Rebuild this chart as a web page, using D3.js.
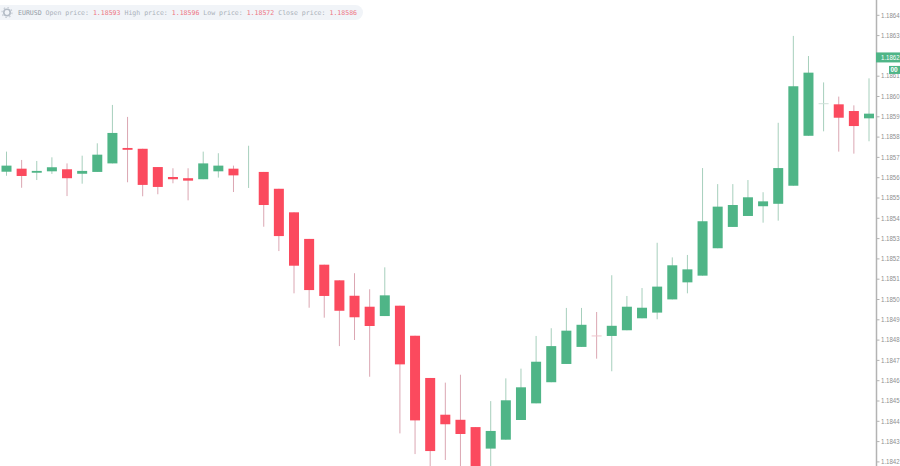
<!DOCTYPE html>
<html><head><meta charset="utf-8">
<script src="https://cdn.jsdelivr.net/npm/d3@7/dist/d3.min.js"></script>
<style>html,body{margin:0;padding:0;background:#fff;overflow:hidden}svg{display:block}</style>
</head><body><svg id="c" width="900" height="466"></svg>
<script>
const symbol = "EURUSD";
const legendItems = [["Open price:","1.18593"],["High price:","1.18596"],["Low price:","1.18572"],["Close price:","1.18586"]];
const opens = [1.185627,1.185642,1.185622,1.185629,1.185639,1.185617,1.185626,1.185668,1.185744,1.185740,1.185650,1.185601,1.185595,1.185590,1.185629,1.185642,1.185650,1.185626,1.185543,1.185427,1.185296,1.185169,1.185092,1.185016,1.184962,1.184916,1.184967,1.184819,1.184611,1.184430,1.184405,1.184369,1.184263,1.184307,1.184404,1.184486,1.184590,1.184680,1.184764,1.184818,1.184818,1.184846,1.184905,1.184933,1.184998,1.185082,1.185115,1.185250,1.185355,1.185409,1.185457,1.185469,1.185558,1.185804,1.185962,1.185959,1.185926,1.185890];
const highs = [1.185726,1.185685,1.185680,1.185698,1.185668,1.185706,1.185767,1.185956,1.185897,1.185740,1.185650,1.185644,1.185644,1.185726,1.185718,1.185657,1.185755,1.185626,1.185543,1.185427,1.185296,1.185169,1.185092,1.185127,1.185048,1.185156,1.184967,1.184819,1.184611,1.184588,1.184627,1.184369,1.184497,1.184609,1.184657,1.184818,1.184856,1.184956,1.184956,1.184936,1.185117,1.185015,1.185054,1.185277,1.185205,1.185217,1.185645,1.185566,1.185566,1.185586,1.185526,1.185868,1.186296,1.186197,1.186067,1.185997,1.185954,1.186087];
const lows = [1.185607,1.185548,1.185586,1.185616,1.185507,1.185568,1.185626,1.185668,1.185575,1.185506,1.185516,1.185570,1.185486,1.185590,1.185598,1.185527,1.185547,1.185356,1.185236,1.185028,1.184957,1.184908,1.184768,1.184798,1.184617,1.184916,1.184338,1.184236,1.184158,1.184207,1.184133,1.184010,1.184133,1.184307,1.184404,1.184486,1.184590,1.184680,1.184764,1.184706,1.184644,1.184846,1.184905,1.184900,1.184998,1.185028,1.185115,1.185250,1.185355,1.185409,1.185376,1.185386,1.185558,1.185804,1.185826,1.185726,1.185716,1.185777];
const closes = [1.185657,1.185606,1.185631,1.185649,1.185595,1.185631,1.185711,1.185818,1.185735,1.185562,1.185552,1.185590,1.185583,1.185668,1.185657,1.185609,1.185650,1.185463,1.185310,1.185164,1.185044,1.185015,1.184942,1.184910,1.184867,1.185018,1.184678,1.184402,1.184251,1.184383,1.184335,1.184059,1.184350,1.184501,1.184565,1.184691,1.184768,1.184844,1.184873,1.184818,1.184868,1.184962,1.184957,1.185061,1.185166,1.185146,1.185383,1.185455,1.185463,1.185501,1.185481,1.185645,1.186048,1.186115,1.185962,1.185893,1.185852,1.185913];
const dojiKinds = {16:"up",39:"down",54:"flat"};
const priceTicks = [1.1842,1.1843,1.1844,1.1845,1.1846,1.1847,1.1848,1.1849,1.1850,1.1851,1.1852,1.1853,1.1854,1.1855,1.1856,1.1857,1.1858,1.1859,1.1860,1.1861,1.1863,1.1864];
const currentPrice = 1.18619;
const countdown = "00";

const GREEN="#4fb587", RED="#fb4a5e", GREEN_W="#a6cfbc", RED_W="#dba6b2", AXIS="#b3b3b3", TXT="#8f8f8f";
const svg=d3.select("#c");
const y=d3.scaleLinear().domain([1.1842,1.1864]).range([461.4,14.8]);
const x=d3.scalePoint().domain(d3.range(opens.length)).range([6,868.5]);
const candles=opens.map((o,i)=>({i,o,h:highs[i],l:lows[i],c:closes[i],doji:dojiKinds[i]}));
const isUp=d=>d.doji?d.doji!=="down":d.c>=d.o;
const W=10;
const chart=svg.append("g");
chart.selectAll("line.w").data(candles).join("line").attr("class","w")
 .attr("x1",d=>x(d.i)+.5).attr("x2",d=>x(d.i)+.5).attr("y1",d=>y(d.h)).attr("y2",d=>y(d.l))
 .attr("stroke",d=>isUp(d)?GREEN_W:RED_W).attr("stroke-width",1);
chart.selectAll("rect.b").data(candles.filter(d=>!d.doji)).join("rect").attr("class","b")
 .attr("x",d=>x(d.i)+.5-W/2).attr("width",W)
 .attr("y",d=>y(Math.max(d.o,d.c))).attr("height",d=>Math.abs(y(d.o)-y(d.c)))
 .attr("fill",d=>isUp(d)?GREEN:RED);
chart.selectAll("line.d").data(candles.filter(d=>d.doji&&d.doji!=="up")).join("line").attr("class","d")
 .attr("x1",d=>x(d.i)+.5-W/2).attr("x2",d=>x(d.i)+.5+W/2).attr("y1",d=>y(d.o)).attr("y2",d=>y(d.o))
 .attr("stroke",d=>d.doji==="down"?"#eec4cc":"#cfe0d8").attr("stroke-width",1);

const ax=svg.append("g").attr("transform","translate(876.5,0)")
 .call(d3.axisRight(y).tickValues(priceTicks).tickFormat(d3.format(".4f")).tickSize(3).tickPadding(1.5));
ax.select(".domain").remove();
ax.selectAll("line").attr("stroke",AXIS);
ax.selectAll("text").attr("fill",TXT).attr("font-family","Liberation Sans").attr("font-size",7)
 .attr("x",0).attr("transform","translate(4.5,0) scale(.87,1)");
svg.append("line").attr("x1",876.5).attr("x2",876.5).attr("y1",0).attr("y2",466).attr("stroke",AXIS).attr("stroke-width",1.5);

const py=y(currentPrice);
svg.append("rect").attr("x",876).attr("y",py-5).attr("width",24).attr("height",10).attr("fill",GREEN);
svg.append("text").attr("transform",`translate(881,${py+2.5}) scale(.87,1)`).attr("fill","#fff").attr("font-family","Liberation Sans").attr("font-size",7)
 .text(d3.format(".4f")(currentPrice));
svg.append("rect").attr("x",889).attr("y",py+8.5).attr("width",11).attr("height",8).attr("fill",GREEN);
svg.append("text").attr("x",890.5).attr("y",py+14.6).attr("fill","#fff").attr("font-family","Liberation Sans").attr("font-size",6.5).attr("font-weight","bold").text(countdown);

const lg=svg.append("g");
lg.append("rect").attr("x",-10).attr("y",5).attr("width",373).attr("height",15).attr("rx",7.5).attr("fill","#f1f4f8");
const gear=lg.append("g").attr("transform","translate(7,12.5)");
gear.append("circle").attr("r",3.2).attr("fill","none").attr("stroke","#b4bcc6").attr("stroke-width",1.6);
gear.append("circle").attr("r",5).attr("fill","none").attr("stroke","#c6ccd4").attr("stroke-width",1.2).attr("stroke-dasharray","1.6 2.3");
const t=lg.append("text").attr("x",18).attr("y",15).attr("font-family","DejaVu Sans Mono").attr("font-size",6.55).attr("xml:space","preserve");
t.append("tspan").attr("fill","#949ca6").text(symbol);
legendItems.forEach(([k,v])=>{
 t.append("tspan").attr("fill","#aab1b9").text(" "+k+" ");
 t.append("tspan").attr("fill","#ee7684").text(v);
});
</script></body></html>
